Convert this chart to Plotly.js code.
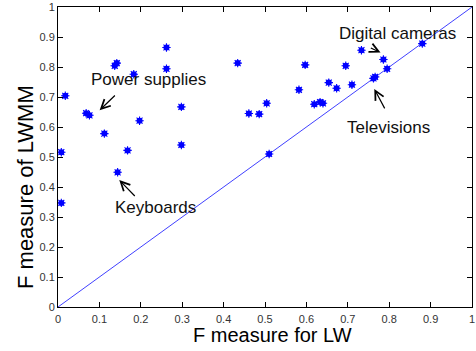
<!DOCTYPE html>
<html>
<head>
<meta charset="utf-8">
<script src="https://cdn.plot.ly/plotly-3.0.1.min.js"></script>
<style>html,body{margin:0;padding:0;background:#fff;}#chart{width:476px;height:351px;}</style>
</head>
<body>
<div id="chart"></div>
<script>
// F measure for LW (x) vs F measure of LWMM (y), one point per product category
var lwScores = [0.0176, 0.008, 0.068, 0.076, 0.112, 0.137, 0.142, 0.183, 0.168, 0.144, 0.197, 0.262, 0.262, 0.298, 0.298, 0.434, 0.461, 0.486, 0.504, 0.510, 0.582, 0.597, 0.619, 0.633, 0.640, 0.654, 0.673, 0.695, 0.710, 0.733, 0.762, 0.766, 0.786, 0.795, 0.880, 0.008];
var lwmmScores = [0.704, 0.516, 0.646, 0.639, 0.578, 0.804, 0.813, 0.776, 0.522, 0.449, 0.621, 0.865, 0.794, 0.667, 0.540, 0.813, 0.645, 0.643, 0.679, 0.510, 0.724, 0.807, 0.676, 0.683, 0.679, 0.748, 0.729, 0.804, 0.741, 0.856, 0.762, 0.767, 0.825, 0.794, 0.878, 0.347];
// diagonal reference line y = x
var diagX = [0, 1];
var diagY = [0, 1];
// labelled categories: label text, label position, arrow tail, arrow tip
var labelNames = ["Power supplies", "Digital cameras", "Televisions", "Keyboards"];
var labelX = [0.218, 0.820, 0.799, 0.236];
var labelY = [0.757, 0.911, 0.600, 0.333];
var tailX = [0.141, 0.752, 0.791, 0.189];
var tailY = [0.710, 0.866, 0.657, 0.365];
var tipX = [0.1005, 0.779, 0.764, 0.148];
var tipY = [0.656, 0.848, 0.727, 0.423];
var xTitle = "F measure for LW";
var yTitle = "F measure of LWMM";

var traces = [
  {x: diagX, y: diagY, type: 'scatter', mode: 'lines', line: {color: '#2a2aff', width: 0.9}, hoverinfo: 'skip'},
  {x: lwScores, y: lwmmScores, type: 'scatter', mode: 'markers', marker: {symbol: 'circle', size: 6, color: '#0000ff'}},
  {x: lwScores, y: lwmmScores, type: 'scatter', mode: 'markers', marker: {symbol: 'asterisk-open', size: 7, color: '#0000ff', line: {color: '#0000ff', width: 1.1}}}
];

var anns = [];
for (var i = 0; i < labelNames.length; i++) {
  anns.push({x: labelX[i], y: labelY[i], xref: 'x', yref: 'y', text: labelNames[i], showarrow: false,
    xanchor: 'center', yanchor: 'middle', font: {family: 'Liberation Sans, Arial, sans-serif', size: 17, color: '#111'}});
  anns.push({x: tipX[i], y: tipY[i], xref: 'x', yref: 'y', ax: tailX[i], ay: tailY[i], axref: 'x', ayref: 'y',
    text: '', showarrow: true, arrowhead: 5, arrowsize: 1.5, arrowwidth: 1.2, arrowcolor: '#000', standoff: 0});
}
anns.push({x: 0.518, y: -0.0945, xref: 'paper', yref: 'paper', text: xTitle, showarrow: false,
  xanchor: 'center', yanchor: 'middle', font: {family: 'Liberation Sans, Arial, sans-serif', size: 20, color: '#000'}});
anns.push({x: -0.079, y: 0.401, xref: 'paper', yref: 'paper', text: yTitle, showarrow: false, textangle: -90,
  xanchor: 'center', yanchor: 'middle', font: {family: 'Liberation Sans, Arial, sans-serif', size: 22, color: '#000'}});

var axisCommon = {
  range: [0, 1], dtick: 0.1, tick0: 0, showgrid: false, zeroline: false,
  showline: true, linecolor: '#000', linewidth: 1, mirror: 'ticks',
  ticks: 'inside', ticklen: 5, tickcolor: '#000', tickwidth: 1,
  tickfont: {family: 'Liberation Sans, Arial, sans-serif', size: 11, color: '#333'}
};

var layout = {
  width: 476, height: 351,
  margin: {l: 58, r: 4, t: 7, b: 44},
  paper_bgcolor: '#fff', plot_bgcolor: '#fff',
  showlegend: false,
  xaxis: Object.assign({}, axisCommon, {ticklabelstandoff: 2}),
  yaxis: Object.assign({}, axisCommon),
  annotations: anns
};

Plotly.newPlot('chart', traces, layout, {staticPlot: true, displayModeBar: false});
</script>
</body>
</html>
